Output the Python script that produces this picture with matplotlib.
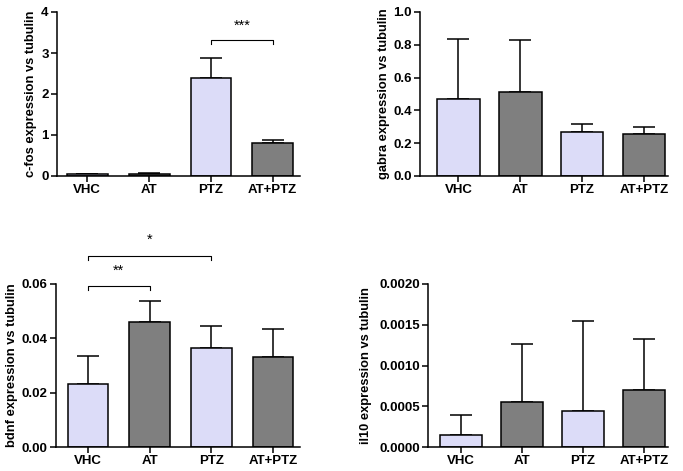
import numpy as np
import matplotlib
matplotlib.use('Agg')
import matplotlib.pyplot as plt
from matplotlib.ticker import FormatStrFormatter, MultipleLocator

plt.rcParams['font.family'] = ['Liberation Sans', 'DejaVu Sans']
plt.rcParams['font.weight'] = 'bold'

groups = ['VHC', 'AT', 'PTZ', 'AT+PTZ']

cfos_mean = [0.045, 0.05, 2.40, 0.80]
cfos_err = [0.01, 0.02, 0.47, 0.09]

gabra_mean = [0.47, 0.51, 0.27, 0.256]
gabra_err = [0.365, 0.32, 0.05, 0.044]

bdnf_mean = [0.0232, 0.0460, 0.0366, 0.0332]
bdnf_err = [0.0102, 0.0076, 0.0080, 0.0103]

il10_mean = [0.00015, 0.00055, 0.00044, 0.00070]
il10_err = [0.00024, 0.00071, 0.00110, 0.00063]

light = '#dcdcf8'
dark = '#7f7f7f'
colors = [light, dark, light, dark]

W, H = 683, 471
fig = plt.figure(figsize=(W / 100, H / 100), dpi=100)


def make_ax(l, r, t, b):
    return fig.add_axes([l / W, 1 - b / H, (r - l) / W, (b - t) / H])


def panel(ax, mean, err, ylabel, ymax, step, fmt, xlim, width, lab_x):
    x = np.arange(len(groups))
    ax.bar(x, mean, width=width, color=colors, edgecolor='black', linewidth=1.1, zorder=2)
    ax.errorbar(x, mean, yerr=[np.zeros(len(err)), err], fmt='none', ecolor='black',
                elinewidth=1.1, capsize=8, capthick=1.1, zorder=1)
    ax.set_xlim(*xlim)
    ax.set_ylim(0, ymax)
    ax.yaxis.set_major_locator(MultipleLocator(step))
    ax.yaxis.set_major_formatter(FormatStrFormatter(fmt))
    ax.set_xticks(x)
    ax.set_xticklabels(groups)
    for s in ['top', 'right']:
        ax.spines[s].set_visible(False)
    for s in ['left', 'bottom']:
        ax.spines[s].set_linewidth(1.1)
    ax.tick_params(width=1.1, length=4, labelsize=9.5, pad=2)
    ax.set_ylabel(ylabel, fontsize=9.3, fontweight='bold')
    ax.yaxis.set_label_coords(lab_x, 0.5)


def bracket(ax, x1, x2, y, drop, txt, ty):
    ax.plot([x1, x1, x2, x2], [y - drop, y, y, y - drop], color='black', lw=0.8,
            clip_on=False)
    ax.text((x1 + x2) / 2, ty, txt, ha='center', va='center', fontsize=10.5,
            fontweight='normal')


ax1 = make_ax(57, 300, 12, 176)
panel(ax1, cfos_mean, cfos_err, 'c-fos expression vs tubulin', 4, 1, '%d',
      (-0.49, 3.44), 0.66, -0.082)
bracket(ax1, 2, 3, 3.32, 0.1, '***', 3.66)

ax2 = make_ax(420, 668, 12, 176)
panel(ax2, gabra_mean, gabra_err, 'gabra expression vs tubulin', 1.0, 0.2, '%.1f',
      (-0.62, 3.39), 0.69, -0.121)

ax3 = make_ax(56, 300, 284, 447)
panel(ax3, bdnf_mean, bdnf_err, 'bdnf expression vs tubulin', 0.06, 0.02, '%.2f',
      (-0.52, 3.44), 0.66, -0.156)
bracket(ax3, 0, 1, 0.0593, 0.0015, '**', 0.0648)
bracket(ax3, 0, 2, 0.0703, 0.0015, '*', 0.0763)

ax4 = make_ax(428, 668, 284, 447)
panel(ax4, il10_mean, il10_err, 'il10 expression vs tubulin', 0.002, 0.0005, '%.4f',
      (-0.54, 3.39), 0.69, -0.233)

fig.savefig('out.png', dpi=100)
